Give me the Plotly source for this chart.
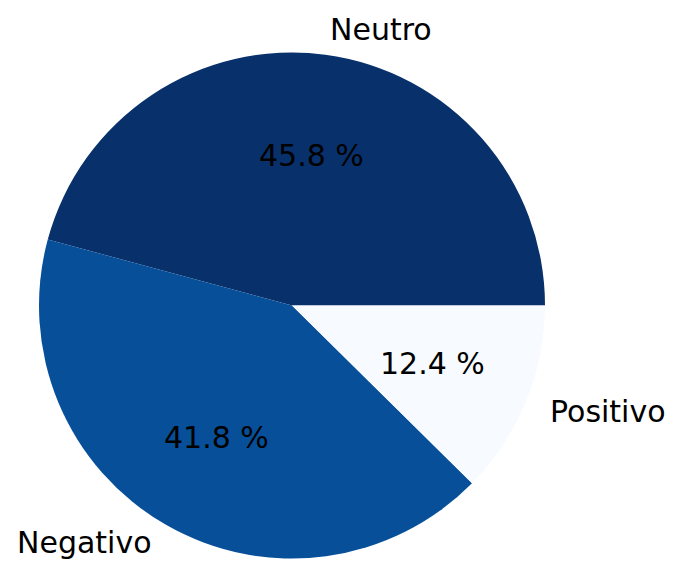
import math
import plotly.graph_objects as go

# Sentiment shares (percent)
labels = ["Neutro", "Negativo", "Positivo"]
values = [45.8, 41.8, 12.4]
colors = ["#08306b", "#074f99", "#f7fbff"]

W, H = 673, 562
CX, CY, R = 292.0, 305.5, 253.0     # pie centre and radius in pixels
LABEL_DIST, PCT_DIST = 1.1, 0.6
FONT = dict(family="DejaVu Sans", size=30, color="black")
HALF_BOX = FONT["size"] * 0.65      # half the height of a one-line text box

total = sum(values)
# With counterclockwise direction plotly ends the first slice at `rotation`,
# so offset it so the first slice starts at 3 o'clock.
rotation = 90 - values[0] / total * 360

fig = go.Figure(
    go.Pie(
        labels=labels,
        values=values,
        marker=dict(colors=colors, line=dict(width=0)),
        sort=False,
        direction="counterclockwise",
        rotation=rotation,
        textinfo="none",
        hoverinfo="label+percent",
        showlegend=False,
        domain=dict(x=[(CX - R) / W, (CX + R) / W],
                    y=[1 - (CY + R) / H, 1 - (CY - R) / H]),
    )
)

# Place slice names outside and percentages inside, at each slice's mid-angle
start = 0.0
for name, v in zip(labels, values):
    frac = v / total
    mid = math.radians((start + frac / 2) * 360)
    start += frac
    c, s = math.cos(mid), math.sin(mid)

    lx, ly = CX + LABEL_DIST * R * c, CY - LABEL_DIST * R * s
    # keep the label box inside the page
    ly = min(max(ly, HALF_BOX), H - HALF_BOX)
    fig.add_annotation(
        x=lx / W, y=1 - ly / H, xref="paper", yref="paper",
        text=name, showarrow=False, font=FONT,
        xanchor="left" if c > 0 else "right", yanchor="middle",
        borderpad=0,
    )

    px, py = CX + PCT_DIST * R * c, CY - PCT_DIST * R * s
    fig.add_annotation(
        x=px / W, y=1 - py / H, xref="paper", yref="paper",
        text=f"{v / total * 100:.1f} %", showarrow=False, font=FONT,
        xanchor="center", yanchor="middle",
        borderpad=0,
    )

fig.update_layout(
    width=W, height=H,
    margin=dict(l=0, r=0, t=0, b=0),
    paper_bgcolor="white",
    plot_bgcolor="white",
)

fig.write_html("out.html")
